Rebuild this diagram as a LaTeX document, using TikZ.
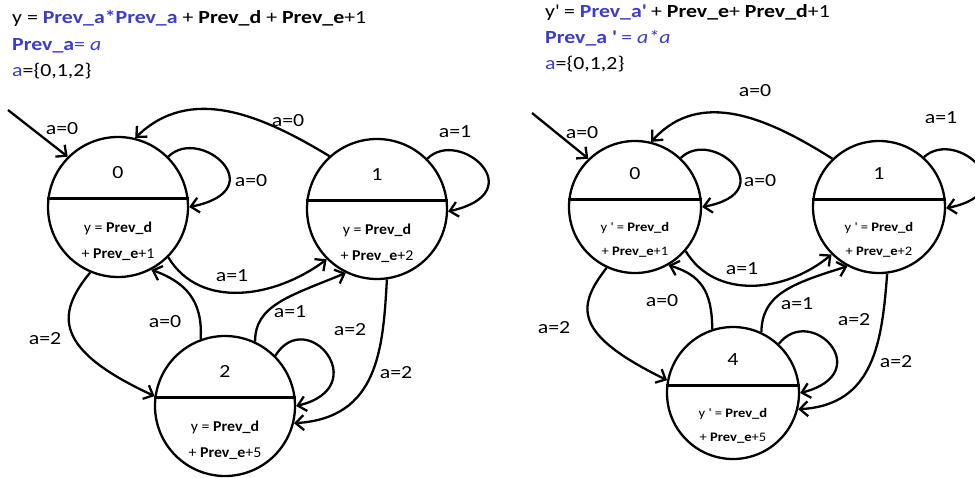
\documentclass[tikz,border=0pt]{standalone}
\usepackage{fontspec}
\setmainfont{Carlito}[FakeStretch=1.18]
\newfontfamily\nodefontL{Carlito}[FakeStretch=1.06]
\newfontfamily\nodefontR{Carlito}[FakeStretch=1.12]
\usetikzlibrary{arrows.meta,calc}
\definecolor{blueT}{RGB}{60,60,205}
\begin{document}
\begin{tikzpicture}[x=1pt,y=-1pt,
  stateL/.style={circle,draw,line width=2.3pt,minimum size=140pt,inner sep=0pt},
  stateR/.style={circle,draw,line width=2.3pt,minimum size=132pt,inner sep=0pt},
  divider/.style={line width=3pt},
  edge/.style={line width=2.3pt,-{Straight Barb[length=8pt,width=15pt]}},
  lbl/.style={font=\fontsize{18.5}{22}\selectfont,inner sep=0pt},
  hdr/.style={font=\fontsize{18.5}{22}\selectfont,inner sep=0pt,anchor=base west},
  num/.style={font=\fontsize{18.5}{22}\selectfont,inner sep=0pt,anchor=base},
  inL/.style={font=\nodefontL\fontsize{15}{18}\selectfont,inner sep=0pt,anchor=base},
  inR/.style={font=\nodefontR\fontsize{13}{16}\selectfont,inner sep=0pt,anchor=base},
]
\useasboundingbox (0,0) rectangle (975,477);
\clip (0,0) rectangle (975,477);

% headers
\node[hdr] (h1) at (12,23) {y = \textbf{\color{blueT}Prev\_a*Prev\_a} + \textbf{Prev\_d} + \textbf{Prev\_e}+1};
\node[hdr,text=blueT] (h2) at (12,50) {\textbf{Prev\_a}= \textit{a}};
\node[hdr] (h3) at (12,76) {{\color{blueT}a}=\{0,1,2\}};
\node[hdr] (h4) at (545,17) {y\textquotesingle{} = \textbf{\color{blueT}Prev\_a\textquotesingle} + \textbf{Prev\_e}+ \textbf{Prev\_d}+1};
\node[hdr,text=blueT] (h5) at (545,43) {\textbf{Prev\_a \textquotesingle} = \textit{a*a}};
\node[hdr] (h6) at (545,69) {{\color{blueT}a}=\{0,1,2\}};

% left states
\node[stateL] (l0) at (118,207) {};
\node[stateL] (l1) at (377,209) {};
\node[stateL] (l2) at (225,406) {};
\foreach \n in {l0,l1,l2}{\draw[divider] (\n.173) -- (\n.7);}
\node[num] (l0n) at ($(l0)+(0,-29)$) {0};
\node[inL] (l0a) at ($(l0)+(0,25)$) {y = \textbf{Prev\_d}};
\node[inL] (l0b) at ($(l0)+(0,51)$) {+ \textbf{Prev\_e}+1};
\node[num] (l1n) at ($(l1)+(0,-29)$) {1};
\node[inL] (l1a) at ($(l1)+(0,25)$) {y = \textbf{Prev\_d}};
\node[inL] (l1b) at ($(l1)+(0,51)$) {+ \textbf{Prev\_e}+2};
\node[num] (l2n) at ($(l2)+(0,-29)$) {2};
\node[inL] (l2a) at ($(l2)+(0,25)$) {y = \textbf{Prev\_d}};
\node[inL] (l2b) at ($(l2)+(0,51)$) {+ \textbf{Prev\_e}+5};

% right states
\node[stateR] (r0) at (635,207) {};
\node[stateR] (r1) at (879,207) {};
\node[stateR] (r4) at (733,393) {};
\foreach \n in {r0,r1,r4}{\draw[divider] (\n.174) -- (\n.6);}
\node[num] (r0n) at ($(r0)+(0,-28)$) {0};
\node[inR] (r0a) at ($(r0)+(0,24)$) {y \textquotesingle{} = \textbf{Prev\_d}};
\node[inR] (r0b) at ($(r0)+(0,48)$) {+ \textbf{Prev\_e}+1};
\node[num] (r1n) at ($(r1)+(0,-28)$) {1};
\node[inR] (r1a) at ($(r1)+(0,24)$) {y \textquotesingle{} = \textbf{Prev\_d}};
\node[inR] (r1b) at ($(r1)+(0,48)$) {+ \textbf{Prev\_e}+2};
\node[num] (r4n) at ($(r4)+(0,-28)$) {4};
\node[inR] (r4a) at ($(r4)+(0,24)$) {y \textquotesingle{} = \textbf{Prev\_d}};
\node[inR] (r4b) at ($(r4)+(0,48)$) {+ \textbf{Prev\_e}+5};

% left edges
\coordinate (lst) at (8,110);
\draw[edge] (lst) -- (l0.135);
\draw[edge] (l0.45) .. controls (200,125) and (275,190) .. (l0.0);
\draw[edge] (l1.132) .. controls (260,114) and (190,85) .. (l0.76);
\draw[edge] (l1.45) .. controls (459,127) and (534,192) .. (l1.358);
\draw[edge] (l0.315) .. controls (200,310) and (275,298) .. (l1.225);
\draw[edge] (l2.65) .. controls (255,305) and (290,296) .. (l1.244);
\draw[edge] (l2.110) .. controls (203,300) and (185,282) .. (l0.298);
\draw[edge] (l0.247) .. controls (55,315) and (55,350) .. (l2.172);
\draw[edge] (l2.45) .. controls (307,305) and (375,387) .. (l2.0);
\draw[edge] (l1.278) .. controls (383,350) and (378,418) .. (l2.346);

\node[lbl] (e1) at (62,129) {a=0};
\node[lbl] (e2) at (251,181) {a=0};
\node[lbl] (e3) at (288,121) {a=0};
\node[lbl] (e4) at (455,132) {a=1};
\node[lbl] (e5) at (232,276) {a=1};
\node[lbl] (e6) at (290,312) {a=1};
\node[lbl] (e7) at (165,322) {a=0};
\node[lbl] (e8) at (45,339) {a=2};
\node[lbl] (e9) at (350,330) {a=2};
\node[lbl] (e10) at (396,373) {a=2};

% right edges
\coordinate (rst) at (532,113);
\draw[edge] (rst) -- (r0.134);
\draw[edge] (r0.47) .. controls (713,127) and (783,192) .. (r0.0);
\draw[edge] (r1.134) .. controls (768,118) and (700,88) .. (r0.76);
\draw[edge] (r1.48) .. controls (957,127) and (1027,192) .. (r1.359);
\draw[edge] (r0.319) .. controls (715,300) and (785,293) .. (r1.225);
\draw[edge] (r4.65) .. controls (762,295) and (790,284) .. (r1.242);
\draw[edge] (r4.108) .. controls (712,290) and (700,275) .. (r0.300);
\draw[edge] (r0.245) .. controls (575,308) and (575,335) .. (r4.169);
\draw[edge] (r4.47) .. controls (811,303) and (878,373) .. (r4.0);
\draw[edge] (r1.277) .. controls (882,340) and (875,405) .. (r4.346);

\node[lbl] (f1) at (582,133) {a=0};
\node[lbl] (f2) at (760,181) {a=0};
\node[lbl] (f3) at (755,91) {a=0};
\node[lbl] (f4) at (941,118) {a=1};
\node[lbl] (f5) at (742,269) {a=1};
\node[lbl] (f6) at (797,304) {a=1};
\node[lbl] (f7) at (662,301) {a=0};
\node[lbl] (f8) at (554,328) {a=2};
\node[lbl] (f9) at (854,320) {a=2};
\node[lbl] (f10) at (896,362) {a=2};
\end{tikzpicture}
\end{document}
